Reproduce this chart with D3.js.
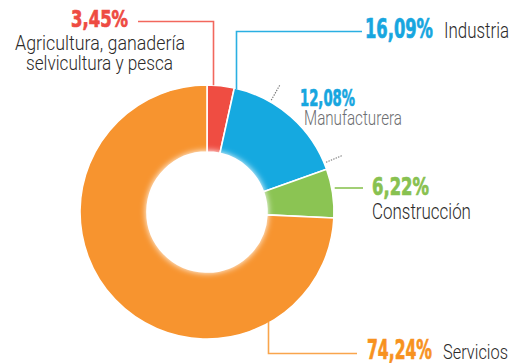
<!DOCTYPE html>
<html>
<head>
<meta charset="utf-8">
<script src="https://cdn.jsdelivr.net/npm/d3@7"></script>
<style>
  html, body { margin: 0; padding: 0; background: #fff; }
  svg { display: block; }
  .num { font-family: "DejaVu Sans Condensed", "DejaVu Sans", sans-serif; font-weight: bold; }
  .lbl { font-family: Roboto, "Liberation Sans", sans-serif; font-weight: 300; }
</style>
</head>
<body>
<svg id="chart" width="521" height="363"></svg>
<script>
// Sector shares of output (%), clockwise from 12 o'clock
const sectors = ["Agricultura", "Industria", "Construcción", "Servicios"];
const shares = [3.45, 16.09, 6.22, 74.24];
const sliceColors = ["#ef4d42", "#15a9e0", "#8bc453", "#f7942f"];
const leaderColors = ["#f2675d", "#2aafe2", "#8bc453", "#f9a54c"];
const textColors = ["#ee4b42", "#17a6df", "#88c150", "#f7921f"];
// Manufacturing is a part of Industria
const subName = "Manufacturera";
const subShare = 12.08;
const subParent = 1;

const fmt = v => v.toFixed(2).replace(".", ",") + "%";

const svg = d3.select("#chart");
const cx = 207, cy = 212, R = 127, r = 60;

const pie = d3.pie().sort(null).value(d => d).startAngle(0).endAngle(2 * Math.PI);
const arcs = pie(shares);
const arc = d3.arc().innerRadius(r).outerRadius(R);

const defs = svg.append("defs");
defs.append("filter").attr("id", "soft")
  .attr("x", "-20%").attr("y", "-20%").attr("width", "140%").attr("height", "140%")
  .append("feGaussianBlur").attr("stdDeviation", 3);

const g = svg.append("g").attr("transform", `translate(${cx},${cy})`);

g.selectAll("path.slice").data(arcs).join("path")
  .attr("class", "slice")
  .attr("d", arc)
  .attr("fill", (d, i) => sliceColors[i])
  .attr("stroke", "#fff")
  .attr("stroke-width", 1.6);

// soft white edge of the hole
g.append("circle").attr("r", r + 1).attr("fill", "#fff").attr("filter", "url(#soft)");
g.append("circle").attr("r", r - 4).attr("fill", "#fff");

// dotted ticks bounding the manufacturing share inside Industria
const parent = arcs[subParent];
const subSpan = subShare / 100 * 2 * Math.PI;
const inset = 3 * Math.PI / 180;
const tickAngles = [parent.endAngle - subSpan + inset, parent.endAngle - inset];
g.selectAll("line.tick").data(tickAngles).join("line")
  .attr("class", "tick")
  .attr("x1", a => Math.sin(a) * (R + 2)).attr("y1", a => -Math.cos(a) * (R + 2))
  .attr("x2", a => Math.sin(a) * (R + 19)).attr("y2", a => -Math.cos(a) * (R + 19))
  .attr("stroke", "#777").attr("stroke-width", 1.1).attr("stroke-dasharray", "1.4,1.2");

// point on the outer edge at a given horizontal offset, top or bottom
const edgeY = (x, top) => cy + (top ? -1 : 1) * Math.sqrt(R * R - (x - cx) * (x - cx));
const edgeX = y => cx + Math.sqrt(R * R - (y - cy) * (y - cy));

const leaders = [
  [[138, 21.5], [213.5, 21.5], [213.5, edgeY(213.5, true)]],
  [[362, 31.5], [236.5, 31.5], [236.5, edgeY(236.5, true) + 1]],
  [[edgeX(188) + 3, 188], [363, 188]],
  [[268.5, edgeY(268.5, false) - 1], [268.5, 353.5], [357, 353.5]]
];

const line = d3.line();
svg.selectAll("path.leader").data(leaders).join("path")
  .attr("class", "leader")
  .attr("d", line)
  .attr("fill", "none")
  .attr("stroke", (d, i) => leaderColors[i])
  .attr("stroke-width", 1.6);

// labels: drawn at natural size, then squeezed horizontally to the wanted width
function txt(s, x, y, cls, size, color, width, anchor) {
  const t = svg.append("text").attr("class", cls)
    .attr("font-size", size).attr("fill", color)
    .attr("text-anchor", anchor || "start")
    .text(s);
  if (cls === "num") t.attr("stroke", color).attr("stroke-width", 0.7);
  const natural = t.node().getComputedTextLength();
  const k = width / natural;
  t.attr("transform", `translate(${x},${y}) scale(${k},1)`);
}
const dark = "#2b2a29";

txt(fmt(shares[0]), 128, 27, "num", 23.5, textColors[0], 57, "end");
txt("Agricultura, ganadería", 100, 50, "lbl", 19.5, dark, 170, "middle");
txt("selvicultura y pesca", 99.5, 70, "lbl", 19.5, dark, 147, "middle");

txt(fmt(shares[1]), 365, 38, "num", 26, textColors[1], 68);
txt(sectors[1], 444, 38, "lbl", 22, dark, 65);

txt(fmt(subShare), 300, 106, "num", 23.5, textColors[1], 55);
txt(subName, 304, 125, "lbl", 19.5, "#6d6e71", 98);

txt(fmt(shares[2]), 372, 195, "num", 25, textColors[2], 57);
txt(sectors[2], 372, 219, "lbl", 22, dark, 99);

txt(fmt(shares[3]), 367, 359, "num", 26, textColors[3], 65);
txt(sectors[3], 443, 359, "lbl", 21, dark, 65);
</script>
</body>
</html>
